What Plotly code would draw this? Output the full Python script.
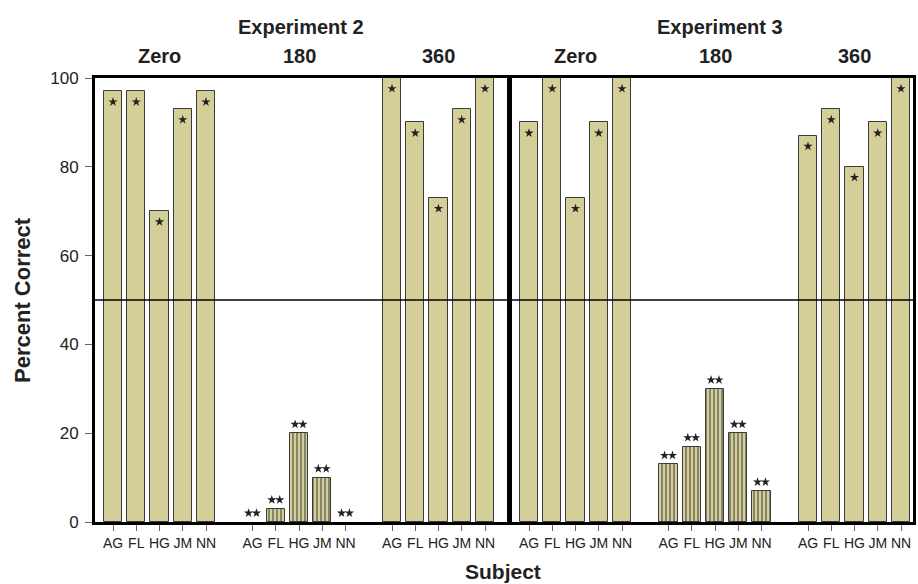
import plotly.graph_objects as go

subjects = ["AG", "FL", "HG", "JM", "NN"]
conditions = ["Zero", "180", "360"]
experiments = ["Experiment 2", "Experiment 3"]

exp2_zero = [97, 97, 70, 93, 97]
exp2_180 = [0, 3, 20, 10, 0]
exp2_360 = [100, 90, 73, 93, 100]

exp3_zero = [90, 100, 73, 90, 100]
exp3_180 = [13, 17, 30, 20, 7]
exp3_360 = [87, 93, 80, 90, 100]

chance_level = 50

data = [[exp2_zero, exp2_180, exp2_360], [exp3_zero, exp3_180, exp3_360]]

TAN = "#d4cf98"
EDGE = "#3a3a3a"
FONT = "Liberation Sans, Arial, sans-serif"

fig = go.Figure()

W, H = 918, 584
mt, mb = 78, 62
plot_h = H - mt - mb
domains = [[95 / W, 507 / W], [512 / W, 913 / W]]
slot_px = 23.25
ranges = [[-18 / slot_px, -18 / slot_px + 412 / slot_px],
          [-17 / slot_px, -17 / slot_px + 401 / slot_px]]

tickvals = []
ticktext = []
for ci in range(len(conditions)):
    for si, s in enumerate(subjects):
        tickvals.append(ci * 6 + si)
        ticktext.append(s)

for ei, exp in enumerate(data):
    xa = "x" if ei == 0 else "x2"
    ya = "y" if ei == 0 else "y2"
    for ci, vals in enumerate(exp):
        xs = [ci * 6 + si for si in range(len(subjects))]
        hatched = conditions[ci] == "180"
        marker = dict(color=TAN,
                      line=dict(color=EDGE, width=[0 if v == 0 else 1 for v in vals]))
        if hatched:
            marker["pattern"] = dict(shape="|", bgcolor=TAN, fgcolor=EDGE,
                                     size=4, solidity=0.25, fillmode="replace")
        fig.add_trace(go.Bar(x=xs, y=vals, width=0.78, marker=marker,
                             xaxis=xa, yaxis=ya, showlegend=False))
        if hatched:
            sx, sy = [], []
            for x, v in zip(xs, vals):
                sx += [x - 0.17, x + 0.17]
                sy += [v + 2.0, v + 2.0]
            fig.add_trace(go.Scatter(x=sx, y=sy, mode="markers",
                                     marker=dict(symbol="star", size=7, color="#222"),
                                     xaxis=xa, yaxis=ya, showlegend=False))
        else:
            fig.add_trace(go.Scatter(x=xs, y=[v - 2.4 for v in vals], mode="markers",
                                     marker=dict(symbol="star", size=7, color="#222"),
                                     xaxis=xa, yaxis=ya, showlegend=False))

common_x = dict(tickmode="array", tickvals=tickvals, ticktext=ticktext,
                ticks="outside", ticklen=6, tickcolor="#666", tickwidth=1,
                showline=True, linecolor="black", linewidth=3, mirror=True,
                showgrid=False, zeroline=False,
                tickfont=dict(family=FONT, size=14, color="#222"))
common_y = dict(range=[0, 100], showline=True, linecolor="black", linewidth=3,
                mirror=True, showgrid=False, zeroline=False)

fig.update_layout(
    width=W, height=H,
    margin=dict(l=0, r=0, t=mt, b=mb),
    plot_bgcolor="white", paper_bgcolor="white",
    bargap=0,
    xaxis=dict(domain=domains[0], range=ranges[0], anchor="y", **common_x),
    xaxis2=dict(domain=domains[1], range=ranges[1], anchor="y2", **common_x),
    yaxis=dict(anchor="x", tickvals=[0, 20, 40, 60, 80, 100], ticks="outside",
               ticklen=7, tickcolor="#666", tickwidth=1, ticklabelstandoff=3,
               tickfont=dict(family=FONT, size=17, color="#222"), **common_y),
    yaxis2=dict(anchor="x2", showticklabels=False, ticks="", **common_y),
)

# chance line
for ei in range(2):
    xr = "x domain" if ei == 0 else "x2 domain"
    yr = "y" if ei == 0 else "y2"
    fig.add_shape(type="line", xref=xr, yref=yr, x0=0, x1=1,
                  y0=chance_level, y1=chance_level,
                  line=dict(color="black", width=1.5), layer="above")

# condition labels
for ei in range(2):
    xr = "x" if ei == 0 else "x2"
    for ci, c in enumerate(conditions):
        fig.add_annotation(x=ci * 6 + 2, xref=xr, y=1 + (mt - 56) / plot_h, yref="paper",
                           text="<b>%s</b>" % c, showarrow=False, yanchor="middle",
                           xanchor="center",
                           font=dict(family=FONT, size=20, color="#222"))

exp_x = [301 / W, 720 / W]
for ei, e in enumerate(experiments):
    fig.add_annotation(x=exp_x[ei], xref="paper", y=1 + (mt - 27) / plot_h, yref="paper",
                       text="<b>%s</b>" % e, showarrow=False, yanchor="middle",
                       xanchor="center",
                       font=dict(family=FONT, size=20, color="#222"))

fig.add_annotation(x=503 / W, xref="paper", y=-(571 - (H - mb)) / plot_h, yref="paper",
                   text="<b>Subject</b>", showarrow=False, yanchor="middle",
                   xanchor="center",
                   font=dict(family=FONT, size=21, color="#222"))
fig.add_annotation(x=22 / W, xref="paper", y=0.5, yref="paper",
                   text="<b>Percent Correct</b>", showarrow=False, textangle=-90,
                   xanchor="center", yanchor="middle",
                   font=dict(family=FONT, size=22, color="#222"))

fig.write_html("out.html")
